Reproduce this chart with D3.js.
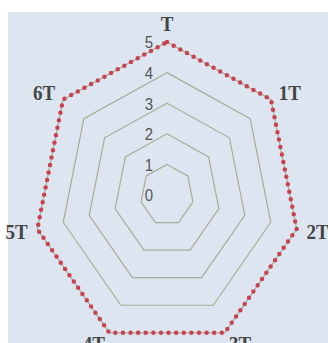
<!DOCTYPE html>
<html>
    <head>
        <title>Radar</title>
        <script src="https://d3js.org/d3.v7.min.js"></script>
        <style>
            body { margin: 0; background: white; }
            .axis-name {
                font-family: 'Liberation Serif', 'DejaVu Serif', serif;
                font-weight: bold;
                font-size: 19px;
                fill: #454545;
            }
            .tick-text {
                font-family: 'Liberation Sans', Arial, sans-serif;
                font-size: 15px;
                fill: #555;
            }
        </style>
    </head>
    <body>
        <svg id='canvas' width=328 height=343></svg>
        <script>
            // colors
            const background = '#dde6f0'
            const ringColor = '#a9ac9b'
            const seriesColor = '#c9424f'

            // data
            const axes = ['T', '1T', '2T', '3T', '4T', '5T', '6T']
            const values = [5, 5, 5, 5, 5, 5, 5]
            const ticks = [0, 1, 2, 3, 4, 5]

            const svg = d3.select('#canvas')
            const cx = 167
            const cy = 195
            const radius = 133
            // the picture is stretched vertically
            const stretch = 1.15

            svg.append('rect')
                .attr('x', 8).attr('y', 12)
                .attr('width', 320).attr('height', 331)
                .attr('fill', background)

            const rScale = d3.scaleLinear().domain([0, 5]).range([0, radius])
            const angle = i => i * 2 * Math.PI / axes.length

            // point on axis i at distance r (in px)
            const pt = (i, r) => [cx + r * Math.sin(angle(i)), cy - stretch * r * Math.cos(angle(i))]

            const line = d3.line().curve(d3.curveLinearClosed)

            const g = svg.append('g')

            // rings, one per tick level
            g.selectAll('.ring')
                .data(ticks.filter(t => t > 0))
                .enter()
                .append('path')
                    .attr('class', 'ring')
                    .attr('d', t => line(axes.map((a, i) => pt(i, rScale(t)))))
                    .attr('fill', 'none')
                    .attr('stroke', ringColor)
                    .attr('stroke-width', 1.2)

            // tick labels left of the top axis
            g.selectAll('.tick-text')
                .data(ticks)
                .enter()
                .append('text')
                    .attr('class', 'tick-text')
                    .attr('text-anchor', 'end')
                    .attr('dominant-baseline', 'central')
                    .attr('transform', t => `translate(${cx - 14}, ${cy - stretch * rScale(t)}) scale(1, ${stretch})`)
                    .text(t => t)

            // series as a dotted line
            g.append('path')
                .attr('d', line(values.map((v, i) => pt(i, rScale(v)))))
                .attr('fill', 'none')
                .attr('stroke', seriesColor)
                .attr('stroke-width', 4.5)
                .attr('stroke-linecap', 'round')
                .attr('stroke-dasharray', '0 7.6')

            // axis names
            g.selectAll('.axis-name')
                .data(axes)
                .enter()
                .append('text')
                    .attr('class', 'axis-name')
                    .attr('text-anchor', (d, i) => {
                        const s = Math.sin(angle(i))
                        return Math.abs(s) < 0.01 ? 'middle' : (s > 0 ? 'start' : 'end')
                    })
                    .attr('dominant-baseline', (d, i) => Math.abs(Math.sin(angle(i))) < 0.01 ? 'auto' : 'central')
                    .attr('transform', (d, i) => {
                        const [x, y] = pt(i, radius + 10)
                        return `translate(${x}, ${y}) scale(1, ${stretch})`
                    })
                    .text(d => d)
        </script>
    </body>
</html>
